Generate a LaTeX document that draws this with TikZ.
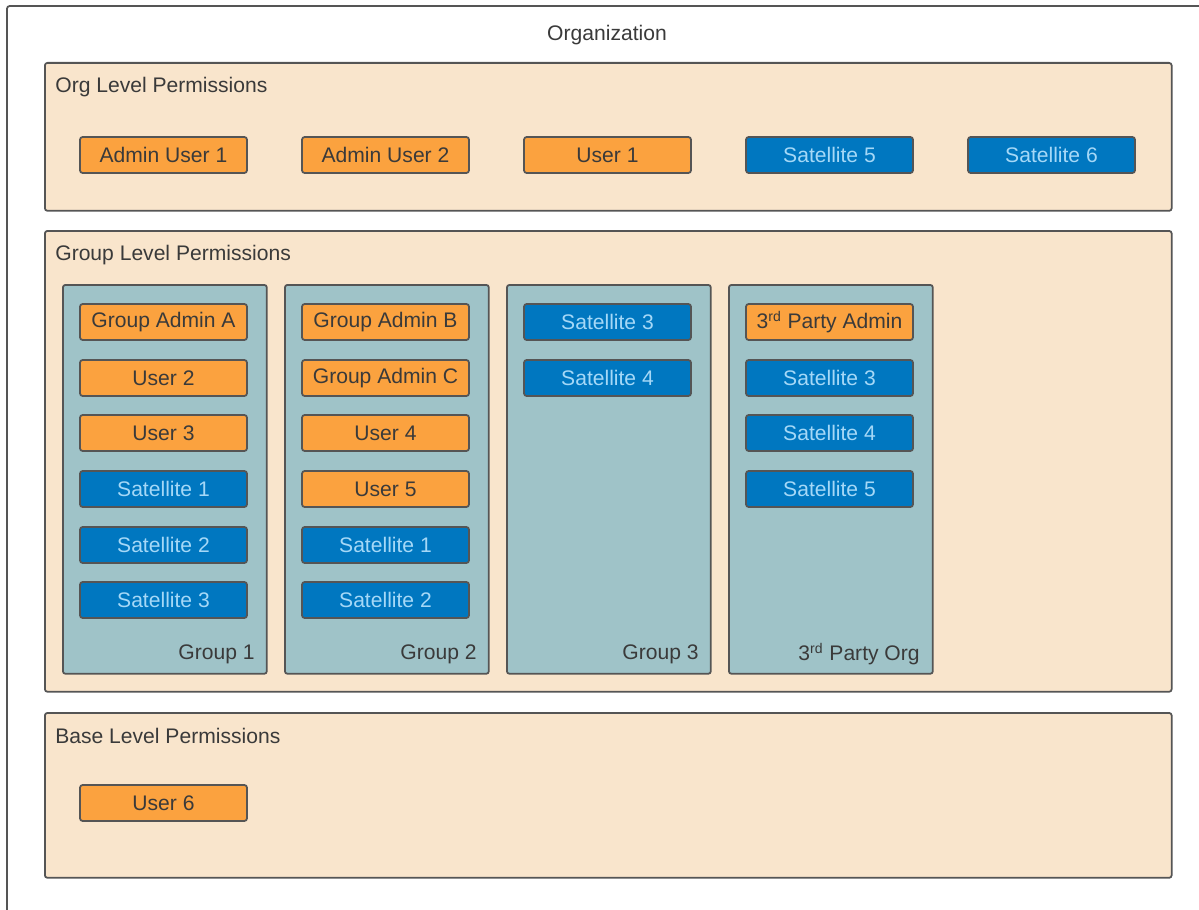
\documentclass[tikz,border=0pt]{standalone}
\usepackage{fontspec}
\setmainfont{Liberation Sans}
\usepackage{xcolor}
\definecolor{edgegray}{HTML}{555555}
\definecolor{textgray}{HTML}{3A3A3A}
\definecolor{beigefill}{HTML}{F9E5CC}
\definecolor{tealfill}{HTML}{9FC3C8}
\definecolor{userfill}{HTML}{FBA23F}
\definecolor{satfill}{HTML}{0077C0}
\definecolor{sattext}{HTML}{A5D8F7}

\begin{document}
\begin{tikzpicture}[x=0.02cm,y=-0.02cm]
		\tikzset{
			every node/.style = {font=\fontsize{12}{14}\selectfont, text=textgray},
			levelbox/.style = {draw=edgegray, line width=1pt, fill=beigefill, rounded corners=1.5pt, minimum width=22.54cm, anchor=north west},
			grouppanel/.style = {draw=edgegray, line width=1pt, fill=tealfill, rounded corners=1.5pt, minimum width=4.08cm, minimum height=7.78cm, anchor=north west},
			useritem/.style = {draw=edgegray, line width=1pt, fill=userfill, rounded corners=1.5pt, minimum width=3.34cm, minimum height=0.72cm},
			satitem/.style = {useritem, fill=satfill, text=sattext},
			boxtitle/.style = {anchor=west, inner sep=0pt},
			paneltitle/.style = {anchor=east, inner sep=0pt}
		}
		\useasboundingbox (0,0) rectangle (1199,909);
		\clip (0,0) rectangle (1199,909);
		% outer frame
		\draw [edgegray, line width=1pt, rounded corners=1.5pt] (7,930) -- (7,6) -- (1230,6);
		\node (org) at (607,35) {Organization};
		% org level
		\node [levelbox, minimum height=2.96cm] (orglevel) at (44,62) {};
		\node [boxtitle] (orgtitle) at (55,87) {Org Level Permissions};
		\node [useritem] (admin1) at (163.5,155) {Admin User 1};
		\node [useritem] (admin2) at (385.5,155) {Admin User 2};
		\node [useritem] (user1) at (607.5,155) {User 1};
		\node [satitem] (sat5) at (829.5,155) {Satellite 5};
		\node [satitem] (sat6) at (1051.5,155) {Satellite 6};
		% group level
		\node [levelbox, minimum height=9.22cm] (grouplevel) at (44,230) {};
		\node [boxtitle] (grouptitle) at (55,255) {Group Level Permissions};
		\node [grouppanel] (group1) at (62,284) {};
		\node [grouppanel] (group2) at (284,284) {};
		\node [grouppanel] (group3) at (506,284) {};
		\node [grouppanel] (party) at (728,284) {};
		\node [paneltitle] (group1title) at (255,654) {Group 1};
		\node [paneltitle] (group2title) at (477,654) {Group 2};
		\node [paneltitle] (group3title) at (699,654) {Group 3};
		\node [paneltitle] (partytitle) at (920,654) {3\textsuperscript{rd} Party Org};
		% group 1
		\node [useritem] (g1admin) at (163.5,322) {Group Admin A};
		\node [useritem] (g1user2) at (163.5,378) {User 2};
		\node [useritem] (g1user3) at (163.5,433) {User 3};
		\node [satitem] (g1sat1) at (163.5,489) {Satellite 1};
		\node [satitem] (g1sat2) at (163.5,545) {Satellite 2};
		\node [satitem] (g1sat3) at (163.5,600) {Satellite 3};
		% group 2
		\node [useritem] (g2adminb) at (385.5,322) {Group Admin B};
		\node [useritem] (g2adminc) at (385.5,378) {Group Admin C};
		\node [useritem] (g2user4) at (385.5,433) {User 4};
		\node [useritem] (g2user5) at (385.5,489) {User 5};
		\node [satitem] (g2sat1) at (385.5,545) {Satellite 1};
		\node [satitem] (g2sat2) at (385.5,600) {Satellite 2};
		% group 3
		\node [satitem] (g3sat3) at (607.5,322) {Satellite 3};
		\node [satitem] (g3sat4) at (607.5,378) {Satellite 4};
		% 3rd party org
		\node [useritem] (partyadmin) at (829.5,322) {3\textsuperscript{rd} Party Admin};
		\node [satitem] (partysat3) at (829.5,378) {Satellite 3};
		\node [satitem] (partysat4) at (829.5,433) {Satellite 4};
		\node [satitem] (partysat5) at (829.5,489) {Satellite 5};
		% base level
		\node [levelbox, minimum height=3.30cm] (baselevel) at (44,712) {};
		\node [boxtitle] (basetitle) at (55,736) {Base Level Permissions};
		\node [useritem] (user6) at (163.5,803) {User 6};
\end{tikzpicture}
\end{document}
